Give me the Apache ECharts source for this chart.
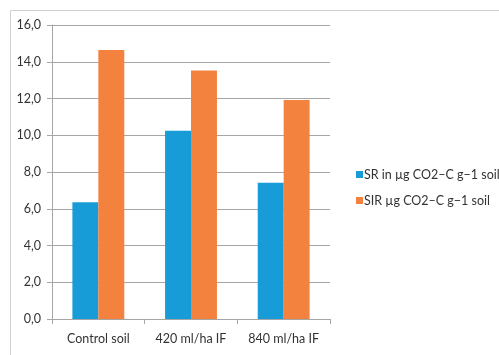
<!DOCTYPE html>
<html><head><meta charset="utf-8">
<script src="https://cdn.jsdelivr.net/npm/echarts@6/dist/echarts.min.js"></script>
<style>html,body{margin:0;padding:0;background:#fff}#c{width:499px;height:355px}</style>
</head><body><div id="c"></div>
<script>
const categories = ['Control soil', '420 ml/ha IF', '840 ml/ha IF'];
const srValues = [6.35, 10.25, 7.42];
const sirValues = [14.64, 13.52, 11.92];
const seriesNames = ['SR in µg CO2–C g−1 soil', 'SIR µg CO2–C g−1 soil'];
const yMin = 0, yMax = 16, yStep = 2;

const font = 'Lato, "Open Sans", sans-serif';
const chart = echarts.init(document.getElementById('c'), null, {renderer: 'canvas'});
chart.setOption({
  animation: false,
  backgroundColor: '#fff',
  textStyle: {fontFamily: font},
  graphic: [{
    type: 'rect', left: 8, top: 8, silent: true,
    shape: {width: 600, height: 400},
    style: {fill: 'none', stroke: '#d0d0d0', lineWidth: 1}
  }],
  grid: {left: 52, right: 169, top: 25, bottom: 36, containLabel: false},
  legend: {
    orient: 'vertical', left: 351, top: 163, itemWidth: 7, itemHeight: 7, itemGap: 13,
    icon: 'rect',
    textStyle: {fontSize: 12.5, color: '#333333', fontFamily: font, padding: [0, 0, 0, -4]},
    data: seriesNames
  },
  xAxis: {
    type: 'category', data: categories,
    axisLine: {lineStyle: {color: '#a6a6a6'}},
    axisTick: {show: true, length: 5, lineStyle: {color: '#a6a6a6'}},
    axisLabel: {fontSize: 12.5, color: '#333333', margin: 13, fontFamily: font}
  },
  yAxis: {
    type: 'value', min: yMin, max: yMax, interval: yStep,
    axisLine: {show: true, lineStyle: {color: '#a6a6a6'}},
    axisTick: {show: true, length: 5, lineStyle: {color: '#a6a6a6'}},
    splitLine: {lineStyle: {color: '#a6a6a6'}},
    axisLabel: {fontSize: 12.5, color: '#333333', margin: 11, fontFamily: font,
      formatter: v => v.toFixed(1).replace('.', ',')}
  },
  series: [
    {name: seriesNames[0], type: 'bar', data: srValues, barGap: '0%', barCategoryGap: '44%',
     itemStyle: {color: '#189cd8'}},
    {name: seriesNames[1], type: 'bar', data: sirValues, barGap: '0%', barCategoryGap: '44%',
     itemStyle: {color: '#f4823f'}}
  ]
});
</script></body></html>
